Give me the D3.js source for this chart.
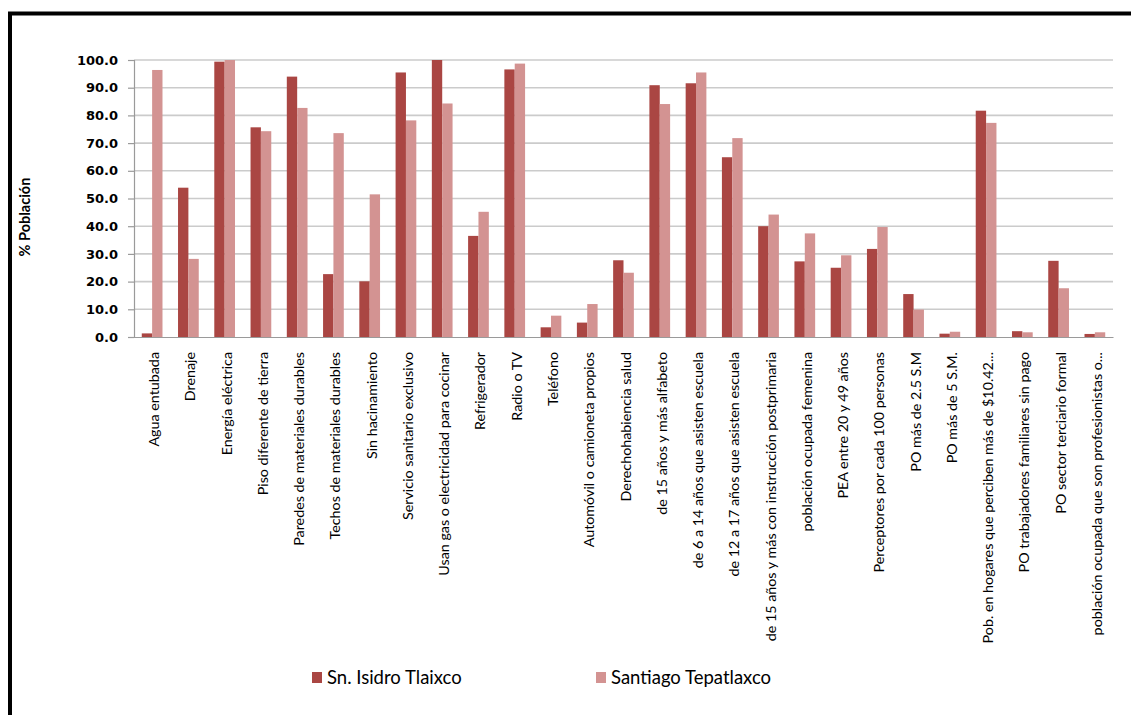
<!DOCTYPE html>
<html>
<head>
<meta charset="utf-8">
<script src="https://cdn.jsdelivr.net/npm/d3@7"></script>
<style>
  body { margin: 0; background: #fff; }
  svg { display: block; }
</style>
</head>
<body>
<div id="chart"></div>
<script>
var categories = [
    'Agua entubada', 'Drenaje', 'Energía eléctrica', 'Piso diferente de tierra',
    'Paredes de materiales durables', 'Techos de materiales durables', 'Sin hacinamiento',
    'Servicio sanitario exclusivo', 'Usan gas o electricidad para cocinar', 'Refrigerador',
    'Radio o TV', 'Teléfono', 'Automóvil o camioneta propios', 'Derechohabiencia salud',
    'de 15 años y más alfabeto', 'de 6 a 14 años que asisten escuela',
    'de 12 a 17 años que asisten escuela', 'de 15 años y más con instrucción postprimaria',
    'población ocupada femenina', 'PEA entre 20 y 49 años', 'Perceptores por cada 100 personas',
    'PO más de 2.5 S.M', 'PO más de 5 S.M.', 'Pob. en hogares que perciben más de $10.42...',
    'PO trabajadores familiares sin pago', 'PO sector terciario formal',
    'población ocupada que son profesionistas o...'
];
var seriesNames = ['Sn. Isidro Tlaixco', 'Santiago Tepatlaxco'];
var isidro = [1.3, 53.9, 99.4, 75.7, 94.0, 22.7, 20.1, 95.5, 100.0, 36.5, 96.6, 3.5, 5.2, 27.7,
    90.9, 91.6, 64.9, 40.0, 27.3, 25.0, 31.8, 15.5, 1.2, 81.7, 2.1, 27.5, 1.1];
var tepatlaxco = [96.4, 28.2, 100.0, 74.3, 82.7, 73.6, 51.5, 78.2, 84.3, 45.2, 98.7, 7.7, 11.9, 23.2,
    84.1, 95.5, 71.8, 44.2, 37.4, 29.5, 39.7, 9.9, 1.9, 77.3, 1.7, 17.6, 1.7];
var yTicks = [0, 10, 20, 30, 40, 50, 60, 70, 80, 90, 100];
var colours = ['#AA4643', '#D39392'];

var W = 1131, H = 715;
var plotLeft = 134, plotRight = 1113, plotTop = 60, plotBottom = 337;

var svg = d3.select('#chart').append('svg')
    .attr('width', W)
    .attr('height', H);

// frame
svg.append('rect')
    .attr('x', 10).attr('y', 13.5)
    .attr('width', 1300).attr('height', 900)
    .attr('fill', 'none')
    .attr('stroke', '#000')
    .attr('stroke-width', 4);

var x = d3.scaleBand()
    .domain(categories)
    .range([plotLeft, plotRight])
    .paddingInner(1.5 / 3.5)
    .paddingOuter(0.75 / 3.5);

var xInner = d3.scaleBand()
    .domain([0, 1])
    .range([0, x.bandwidth()]);

var y = d3.scaleLinear()
    .domain([0, 100])
    .range([plotBottom, plotTop]);

// gridlines
svg.append('g')
    .selectAll('line')
    .data(yTicks.slice(1))
    .join('line')
    .attr('x1', plotLeft).attr('x2', plotRight)
    .attr('y1', d => y(d)).attr('y2', d => y(d))
    .attr('stroke', '#CBCBCB')
    .attr('stroke-width', 1.6);

// y axis
var yAxis = d3.axisLeft(y)
    .tickValues(yTicks)
    .tickFormat(d3.format('.1f'))
    .tickSize(6)
    .tickPadding(10);

var yg = svg.append('g')
    .attr('transform', 'translate(' + plotLeft + ',0)')
    .call(yAxis);

yg.select('.domain').attr('stroke', '#9A9A9A').attr('stroke-width', 1.2);
yg.selectAll('.tick line').attr('stroke', '#9A9A9A').attr('stroke-width', 1.2);
yg.selectAll('.tick text')
    .style('font-family', 'DejaVu Sans, Verdana, sans-serif')
    .style('font-weight', 'bold')
    .style('font-size', '13px')
    .attr('fill', '#000');

// bars
var data = [isidro, tepatlaxco];
data.forEach(function (values, s) {
    svg.append('g')
        .attr('fill', colours[s])
        .selectAll('rect')
        .data(values)
        .join('rect')
        .attr('x', (d, i) => x(categories[i]) + xInner(s))
        .attr('y', d => y(d))
        .attr('width', xInner.bandwidth())
        .attr('height', d => y(0) - y(d));
});

// x axis
var xAxis = d3.axisBottom(x).tickSize(0).tickFormat('');
var xg = svg.append('g')
    .attr('transform', 'translate(0,' + plotBottom + ')')
    .call(xAxis);
xg.select('.domain').attr('stroke', '#9A9A9A').attr('stroke-width', 1.2);

svg.append('g')
    .selectAll('text')
    .data(categories)
    .join('text')
    .attr('transform', d => 'translate(' + (x(d) + x.bandwidth() / 2 + 2) + ',352) rotate(-90)')
    .attr('text-anchor', 'end')
    .attr('dy', '0.35em')
    .style('font-family', 'Lato, sans-serif')
    .style('font-size', '14.3px')
    .attr('fill', '#000')
    .text(d => d);

// y title
svg.append('text')
    .attr('transform', 'translate(30,217) rotate(-90)')
    .attr('text-anchor', 'middle')
    .style('font-family', 'Lato, sans-serif')
    .style('font-weight', 'bold')
    .style('font-size', '14.5px')
    .text('% Población');

// legend
var legendX = [312, 596];
var legend = svg.append('g')
    .selectAll('g')
    .data(seriesNames)
    .join('g')
    .attr('transform', (d, i) => 'translate(' + legendX[i] + ',672)');

legend.append('rect')
    .attr('width', 10).attr('height', 11)
    .attr('fill', (d, i) => colours[i]);

legend.append('text')
    .attr('x', 15)
    .attr('y', 11.5)
    .style('font-family', 'Lato, sans-serif')
    .style('font-size', '18.5px')
    .text(d => d);
</script>
</body>
</html>
